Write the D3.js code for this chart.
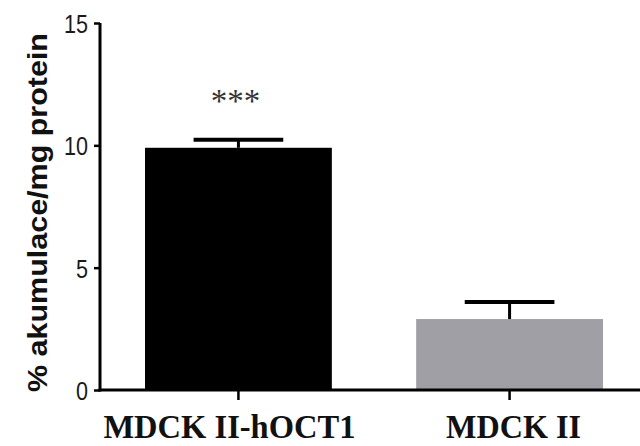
<!DOCTYPE html>
<html>
<head>
<meta charset="utf-8">
<script src="https://cdn.jsdelivr.net/npm/d3@7"></script>
<style>
  html, body { margin: 0; padding: 0; background: #fff; }
  svg { display: block; }
</style>
</head>
<body>
<svg id="chart" width="640" height="446"></svg>
<script>
// Accumulation per mg protein, mean with upper error (SEM)
const categories = ["MDCK II-hOCT1", "MDCK II"];
const means = [9.9, 2.9];
const errors = [0.33, 0.7];
const barColors = ["#000000", "#a09fa6"];
const significance = ["***", ""];
const yTicks = [0, 5, 10, 15];
const yLabel = "% akumulace/mg protein";

const svg = d3.select("#chart");
const W = 640, H = 446;

const x = d3.scaleBand()
  .domain(categories)
  .range([100, 648])
  .paddingInner(0.311)
  .paddingOuter(0.166);

const y = d3.scaleLinear().domain([0, 15]).range([390, 23]);

// bars
svg.append("g").selectAll("rect")
  .data(categories)
  .join("rect")
  .attr("x", d => x(d))
  .attr("width", x.bandwidth())
  .attr("y", (d, i) => y(means[i]))
  .attr("height", (d, i) => y(0) - y(means[i]))
  .attr("fill", (d, i) => barColors[i]);

// upper error bars
const capHalf = x.bandwidth() * 0.24;
const eb = svg.append("g").attr("stroke", "#000");
categories.forEach((c, i) => {
  const cx = x(c) + x.bandwidth() / 2;
  eb.append("line")
    .attr("x1", cx).attr("x2", cx)
    .attr("y1", y(means[i])).attr("y2", y(means[i] + errors[i]))
    .attr("stroke-width", 3);
  eb.append("line")
    .attr("x1", cx - capHalf).attr("x2", cx + capHalf)
    .attr("y1", y(means[i] + errors[i])).attr("y2", y(means[i] + errors[i]))
    .attr("stroke-width", 4);
});

// significance marks
svg.append("g").selectAll("text")
  .data(categories)
  .join("text")
  .attr("x", d => x(d) + x.bandwidth() / 2 - 3)
  .attr("y", (d, i) => y(means[i] + errors[i]) - 28)
  .attr("text-anchor", "middle")
  .attr("font-family", "'Liberation Serif', 'Times New Roman', serif")
  .attr("font-size", 33)
  .attr("fill", "#333")
  .text((d, i) => significance[i]);

// y axis
const yAxis = svg.append("g")
  .attr("transform", "translate(100,0)")
  .call(d3.axisLeft(y).tickValues(yTicks).tickSize(6).tickPadding(6).tickFormat(d3.format("d")));
yAxis.select(".domain").attr("stroke", "#000").attr("stroke-width", 3)
  .attr("d", `M0,${y(15)}V${y(0) + 1.5}`);
yAxis.selectAll(".tick line").attr("stroke", "#000").attr("stroke-width", 2.5);
yAxis.selectAll(".tick text")
  .attr("font-family", "'Liberation Sans', Arial, sans-serif")
  .attr("font-size", 26)
  .attr("fill", "#1a1a1a")
  .attr("dy", "0.36em")
  .attr("textLength", d => String(d).length * 12)
  .attr("lengthAdjust", "spacingAndGlyphs");

// x axis
const xAxis = svg.append("g")
  .attr("transform", `translate(0,${y(0)})`)
  .call(d3.axisBottom(x).tickSize(10).tickFormat(""));
xAxis.select(".domain").attr("stroke", "#000").attr("stroke-width", 3)
  .attr("d", `M98.5,0H${W}`);
xAxis.selectAll(".tick line").attr("stroke", "#000").attr("stroke-width", 2.5);

// category labels
const labelShift = [-9, 4];
const labelLength = [252, 135];
svg.append("g").selectAll("text")
  .data(categories)
  .join("text")
  .attr("x", (d, i) => x(d) + x.bandwidth() / 2 + labelShift[i])
  .attr("y", 438)
  .attr("text-anchor", "middle")
  .attr("font-family", "'Liberation Serif', 'Times New Roman', serif")
  .attr("font-weight", "bold")
  .attr("font-size", 33)
  .attr("fill", "#111")
  .attr("textLength", (d, i) => labelLength[i])
  .attr("lengthAdjust", "spacingAndGlyphs")
  .text(d => d);

// y axis title
svg.append("text")
  .attr("transform", `translate(47,${(33 + 392) / 2}) rotate(-90)`)
  .attr("text-anchor", "middle")
  .attr("font-family", "'Liberation Sans', Arial, sans-serif")
  .attr("font-weight", "bold")
  .attr("font-size", 28)
  .attr("fill", "#111")
  .attr("textLength", 359)
  .attr("lengthAdjust", "spacingAndGlyphs")
  .text(yLabel);
</script>
</body>
</html>
